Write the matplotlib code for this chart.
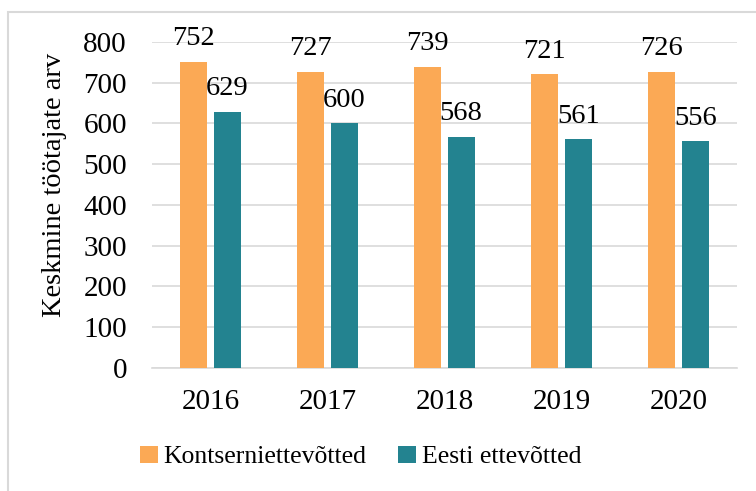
import numpy as np
import matplotlib
matplotlib.use("Agg")
import matplotlib.pyplot as plt
from matplotlib.patches import Rectangle

years = ["2016", "2017", "2018", "2019", "2020"]
kontsern = [752, 727, 739, 721, 726]
eesti = [629, 600, 568, 561, 556]

plt.rcParams["font.family"] = ["Liberation Serif", "DejaVu Serif"]

fig = plt.figure(figsize=(7.56, 4.91), dpi=100)
ax = fig.add_axes([0.201, 0.2505, 0.774, 0.664])

# light frame around the chart area
fig.patches.append(Rectangle((8 / 756, -0.2), 1.2, 1.2 - 12 / 491,
                             transform=fig.transFigure, fill=False,
                             edgecolor="#d9d9d9", linewidth=1.5))

x = np.arange(len(years))
w = 0.23
b1 = ax.bar(x - 0.145, kontsern, w, color="#FBA955", label="Kontserniettevõtted", zorder=3)
b2 = ax.bar(x + 0.142, eesti, w, color="#238390", label="Eesti ettevõtted", zorder=3)

for bars, vals in ((b1, kontsern), (b2, eesti)):
    for r, v in zip(bars, vals):
        ax.annotate(str(v), (r.get_x() + r.get_width() / 2, v),
                    xytext=(0, 12), textcoords="offset points",
                    ha="center", va="baseline", fontsize=20.5, annotation_clip=False)

ax.set_xlim(-0.5, len(years) - 0.5)
ax.set_ylim(0, 800)
ax.set_yticks(range(0, 801, 100))
ax.set_xticks(x)
ax.set_xticklabels(years)
ax.tick_params(axis="both", labelsize=21, length=0)
ax.tick_params(axis="y", pad=18)
ax.tick_params(axis="x", pad=15)
ax.set_ylabel("Keskmine töötajate arv", fontsize=20.5)
ax.yaxis.set_label_coords(-0.145, 0.561)

ax.grid(axis="y", color="#d9d9d9", linewidth=1.2, zorder=0)
for s in ["top", "right", "left"]:
    ax.spines[s].set_visible(False)
ax.spines["bottom"].set_color("#d9d9d9")
ax.spines["bottom"].set_linewidth(1.2)

fig.legend(handles=[b1, b2], loc="center", bbox_to_anchor=(0.477, 1 - 457 / 491),
           ncol=2, frameon=False, fontsize=18.5, handlelength=0.7, handleheight=0.7,
           handletextpad=0.2, columnspacing=1.25)

fig.savefig("out.png", dpi=100)
